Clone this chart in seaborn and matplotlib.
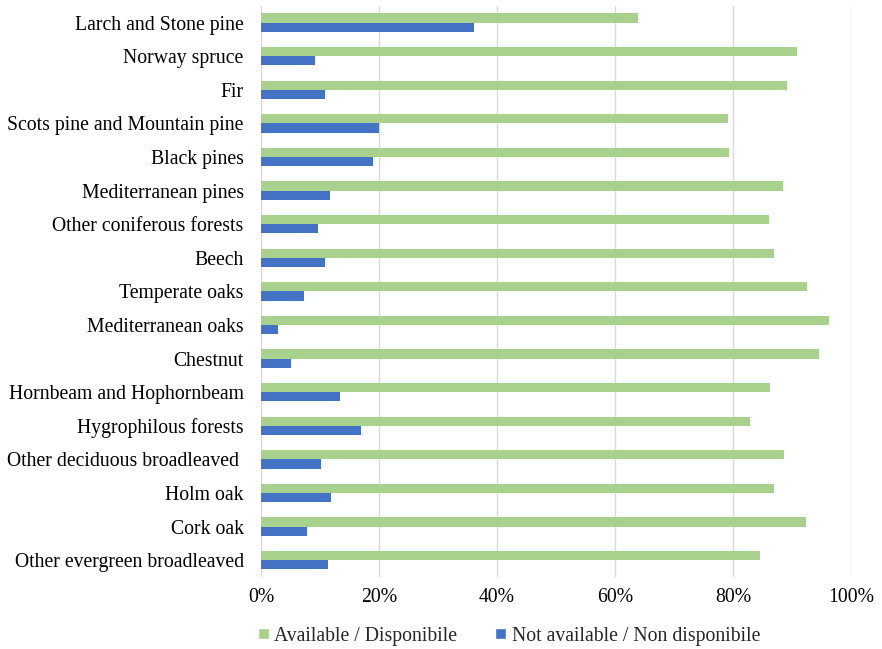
import pandas as pd
import matplotlib.pyplot as plt
import seaborn as sns
from matplotlib.ticker import PercentFormatter
from matplotlib.patches import Patch

# Forest categories (top to bottom) and share of plots per status, in %
categories = [
    "Larch and Stone pine", "Norway spruce", "Fir", "Scots pine and Mountain pine",
    "Black pines", "Mediterranean pines", "Other coniferous forests", "Beech",
    "Temperate oaks", "Mediterranean oaks", "Chestnut", "Hornbeam and Hophornbeam",
    "Hygrophilous forests", "Other deciduous broadleaved ", "Holm oak", "Cork oak",
    "Other evergreen broadleaved",
]
available = [63.9, 90.8, 89.1, 79.1, 79.3, 88.4, 86.0, 86.9, 92.6, 96.3, 94.5,
             86.3, 82.9, 88.7, 86.9, 92.4, 84.6]
not_available = [36.1, 9.2, 10.9, 20.0, 18.9, 11.6, 9.7, 10.9, 7.3, 2.9, 5.1,
                 13.4, 17.0, 10.1, 11.9, 7.7, 11.4]

series = ["Available / Disponibile", "Not available / Non disponibile"]
colors = ["#A9D18E", "#4472C4"]

df = pd.DataFrame({
    "Category": categories * 2,
    "Value": available + not_available,
    "Series": [series[0]] * len(categories) + [series[1]] * len(categories),
})

sns.set_theme(style="white")
plt.rcParams['font.family'] = ['Liberation Serif', 'DejaVu Serif']

fig = plt.figure(figsize=(8.82, 6.49), dpi=100)
ax = fig.add_axes([0.296, 0.111, 0.669, 0.880])

sns.barplot(data=df, y="Category", x="Value", hue="Series", order=categories,
            hue_order=series, palette=colors, orient="h", width=0.55,
            saturation=1, linewidth=0, ax=ax, legend=False)

ax.set_xlim(0, 100)
ax.set_xticks([0, 20, 40, 60, 80, 100])
ax.xaxis.set_major_formatter(PercentFormatter(decimals=0))
ax.grid(axis="x", color="#D9D9D9", linewidth=1)
ax.set_axisbelow(True)
for s in ["top", "right", "bottom", "left"]:
    ax.spines[s].set_visible(False)
ax.set_xlabel("")
ax.set_ylabel("")
ax.tick_params(axis="both", length=0, labelsize=14.2, colors="#000000")
ax.tick_params(axis="x", pad=8)
ax.tick_params(axis="y", pad=12.5)

handles = [Patch(facecolor=c, label=l) for c, l in zip(colors, series)]
fig.legend(handles=handles, loc="lower left", bbox_to_anchor=(0.272, -0.022),
           ncol=2, frameon=False, fontsize=14.2, handlelength=0.55, handleheight=0.55,
           handletextpad=0.3, columnspacing=1.9)

fig.savefig("out.png", dpi=100)
